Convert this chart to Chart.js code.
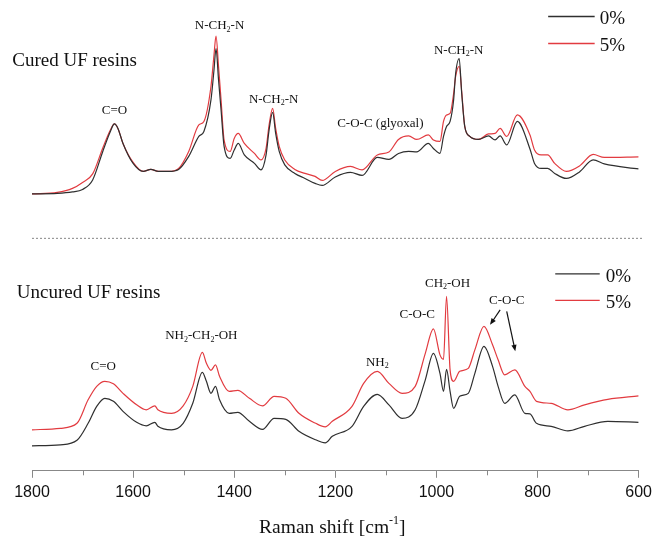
<!DOCTYPE html>
<html>
<head>
<meta charset="utf-8">
<script src="https://cdn.jsdelivr.net/npm/chart.js@4.4.0/dist/chart.umd.min.js"></script>
<style>
html,body{margin:0;padding:0;background:#fff;}
#wrap{position:relative;width:657px;height:538px;}
</style>
</head>
<body>
<div id="wrap"><canvas id="raman"></canvas></div>
<script>
/* Raman spectra of cured / uncured UF resins, 0% vs 5% glyoxal */

// cured resins (upper panel), intensity in arbitrary units
const curedShift=[1800,1750,1720,1700,1680,1660,1645,1637,1630,1620,1600,1580,1565,1550,1530,1510,1490,1470,1460,1446,1440,1436,1431,1426,1420,1408,1400,1392,1380,1360,1347,1337,1331,1324,1318,1311,1300,1280,1260,1240,1226,1200,1170,1147,1117,1094,1075,1055,1039,1016,1006,993,986,980,973,966,962,955,950,944,934,917,897,884,874,861,840,815,806,793,780,766,743,717,690,668,600];
const cured0=[55.4,55.5,55.8,56.3,58.2,63.9,67.9,69.4,68.5,65.5,61.5,59.9,60.3,59.9,59.9,60.3,62.9,66.9,67.9,74.2,80.2,84.5,78.2,72.2,64.9,62.5,64.2,65.5,63.2,61.5,60.2,63.2,68.2,71.7,67.5,63.9,61.2,59.5,58.5,57.5,57.1,58.8,59.7,59.1,62.7,62.3,63.5,63.9,63.8,65.5,64.5,63.5,66.9,68.9,69.9,74.2,79.5,82.5,75.5,68.9,66.9,66.3,67.0,66.2,67.0,65.2,69.9,64.4,61.5,60.5,60.5,59.5,58.5,59.8,62.2,61.4,60.4];
const cured5=[55.4,55.7,56.5,57.7,59.4,64.6,68.2,69.4,68.5,65.5,61.7,59.9,60.3,59.9,59.9,60.5,63.9,69.2,69.9,76.9,83.2,87.0,80.9,74.2,66.2,63.9,66.5,67.5,65.5,63.5,62.2,64.5,69.2,72.5,68.5,64.9,62.2,60.3,59.5,58.9,58.1,59.9,60.9,60.2,63.2,63.8,66.3,67.0,66.3,67.2,66.2,65.9,69.9,71.2,71.5,75.5,78.9,80.9,75.9,68.9,66.9,66.3,67.4,67.5,68.5,66.9,71.2,67.2,64.2,63.2,63.2,61.5,59.9,61.0,63.3,62.7,62.8];

// uncured resins (lower panel)
const uncuredShift=[1800,1744,1711,1689,1672,1656,1639,1620,1593,1574,1557,1551,1524,1501,1482,1463,1455,1446,1437,1429,1410,1393,1370,1344,1321,1298,1272,1239,1220,1206,1167,1144,1117,1094,1068,1042,1022,1006,993,986,980,973,966,954,937,924,906,889,878,865,845,825,815,802,773,740,707,661,600];
const uncured0=[5.0,5.2,6.1,9.5,12.9,14.5,13.9,11.9,9.7,9.0,9.7,8.9,8.2,9.5,13.5,19.7,17.9,15.5,16.9,14.2,11.5,11.7,9.9,8.3,10.5,10.3,7.9,6.2,5.6,6.9,8.9,12.9,15.3,13.2,10.5,12.2,18.2,23.5,19.5,15.9,20.3,15.9,12.5,14.9,15.5,19.5,24.9,20.9,16.9,13.5,15.2,11.5,11.4,9.5,8.9,8.0,8.9,9.9,9.7];
const uncured5=[8.2,8.5,9.5,14.2,16.9,17.9,17.4,15.5,13.2,12.2,13.0,12.2,11.5,13.0,16.9,23.7,21.5,20.1,21.2,18.9,15.9,16.1,14.5,13.0,14.9,14.5,11.5,9.5,8.8,9.9,12.9,17.5,19.9,17.5,15.5,16.9,23.5,28.4,23.2,22.3,34.9,20.2,17.9,19.9,20.5,24.2,28.9,25.2,22.2,19.2,20.2,16.9,15.9,13.9,13.5,12.2,13.2,14.3,15.0];

const seriesNames=['0%','5%'];
const seriesColors=['#2f2f2f','#e23b40'];
const xLabelTicks=[1800,1600,1400,1200,1000,800,600];
const xMinorTicks=[1700,1500,1300,1100,900,700];

// peak labels (wavenumber, intensity), _{} = subscript, ^{} = superscript
const notes=[
  {t:'Cured UF resins',x:1839,y:81.9,size:19,align:'left'},
  {t:'C=O',x:1637,y:72.0},
  {t:'N-CH_{2}-N',x:1429,y:89.0},
  {t:'N-CH_{2}-N',x:1322,y:74.3},
  {t:'C-O-C (glyoxal)',x:1111,y:69.4},
  {t:'N-CH_{2}-N',x:956,y:84.1},
  {t:'Uncured UF resins',x:1830,y:35.5,size:19,align:'left'},
  {t:'C=O',x:1659,y:20.9},
  {t:'NH_{2}-CH_{2}-OH',x:1465,y:27.0},
  {t:'NH_{2}',x:1117,y:21.7},
  {t:'C-O-C',x:1038,y:31.2},
  {t:'CH_{2}-OH',x:978,y:37.5},
  {t:'C-O-C',x:861,y:34.0}
];
const arrows=[[874,32.2,894,29.2],[861,31.9,844,23.9]];
const legends=[{x1:779,x2:687,tx:677,rows:[90.9,85.5]},{x1:765,x2:677,tx:665,rows:[39.4,34.1]}];
const separatorY=46.5;

const SERIF='"Liberation Serif","Times New Roman",serif';

function richText(ctx,str,x,y,size,align){
  const segs=str.split(/(_\{[^}]*\}|\^\{[^}]*\})/).filter(s=>s).map(p=>{
    if(p[0]==='_')return{s:p.slice(2,-1),k:1};
    if(p[0]==='^')return{s:p.slice(2,-1),k:-1};
    return{s:p,k:0};
  });
  let w=0;
  segs.forEach(g=>{g.f=(g.k?Math.round(size*0.62):size)+'px '+SERIF;ctx.font=g.f;g.w=ctx.measureText(g.s).width;w+=g.w;});
  let cx=align==='left'?x:x-w/2;
  ctx.textAlign='left';ctx.textBaseline='middle';
  segs.forEach(g=>{
    ctx.font=g.f;
    const dy=g.k===1?size*0.3:(g.k===-1?-size*0.38:0);
    ctx.fillText(g.s,cx,y+dy);cx+=g.w;
  });
}

const decor={
  id:'decor',
  afterDraw(chart){
    const ctx=chart.ctx,xs=chart.scales.x,ys=chart.scales.y,ca=chart.chartArea;
    ctx.save();
    // minor ticks
    ctx.strokeStyle='#888';ctx.lineWidth=1;
    xMinorTicks.forEach(v=>{const px=Math.round(xs.getPixelForValue(v))+0.5;ctx.beginPath();ctx.moveTo(px,xs.top);ctx.lineTo(px,xs.top+4.5);ctx.stroke();});
    // dotted separator
    ctx.strokeStyle='#999';ctx.lineWidth=1.2;ctx.setLineDash([2,2]);
    const sy=ys.getPixelForValue(separatorY);
    ctx.beginPath();ctx.moveTo(ca.left,sy);ctx.lineTo(ca.right+4,sy);ctx.stroke();
    ctx.setLineDash([]);
    // labels
    ctx.fillStyle='#111';
    notes.forEach(n=>richText(ctx,n.t,xs.getPixelForValue(n.x),ys.getPixelForValue(n.y),n.size||13,n.align||'center'));
    // arrows
    ctx.strokeStyle='#111';ctx.lineWidth=1.2;
    arrows.forEach(a=>{
      const x1=xs.getPixelForValue(a[0]),y1=ys.getPixelForValue(a[1]),x2=xs.getPixelForValue(a[2]),y2=ys.getPixelForValue(a[3]);
      const ang=Math.atan2(y2-y1,x2-x1),h=7;
      ctx.beginPath();ctx.moveTo(x1,y1);ctx.lineTo(x2-Math.cos(ang)*h*0.8,y2-Math.sin(ang)*h*0.8);ctx.stroke();
      ctx.beginPath();ctx.moveTo(x2,y2);
      ctx.lineTo(x2-h*Math.cos(ang-0.38),y2-h*Math.sin(ang-0.38));
      ctx.lineTo(x2-h*Math.cos(ang+0.38),y2-h*Math.sin(ang+0.38));
      ctx.closePath();ctx.fillStyle='#111';ctx.fill();
    });
    // legends
    legends.forEach(L=>{
      L.rows.forEach((ry,i)=>{
        const py=ys.getPixelForValue(ry);
        ctx.strokeStyle=seriesColors[i];ctx.lineWidth=1.3;
        ctx.beginPath();ctx.moveTo(xs.getPixelForValue(L.x1),py);ctx.lineTo(xs.getPixelForValue(L.x2),py);ctx.stroke();
        ctx.fillStyle='#111';
        richText(ctx,seriesNames[i],xs.getPixelForValue(L.tx),py+3,19,'left');
      });
    });
    // axis title
    richText(ctx,'Raman shift [cm^{-1}]',(xs.left+xs.right)/2-3,528,19.5,'center');
    ctx.restore();
  }
};

function series(xv,yv){return xv.map((x,i)=>({x:x,y:yv[i]}));}

new Chart(document.getElementById('raman'),{
  type:'line',
  data:{datasets:[
    {label:'cured 0%',data:series(curedShift,cured0),borderColor:seriesColors[0]},
    {label:'cured 5%',data:series(curedShift,cured5),borderColor:seriesColors[1]},
    {label:'uncured 0%',data:series(uncuredShift,uncured0),borderColor:seriesColors[0]},
    {label:'uncured 5%',data:series(uncuredShift,uncured5),borderColor:seriesColors[1]}
  ]},
  options:{
    responsive:true,maintainAspectRatio:false,animation:false,devicePixelRatio:1,
    layout:{padding:{left:32,right:16,top:1,bottom:31}},
    elements:{point:{radius:0},line:{borderWidth:1.2,cubicInterpolationMode:'monotone',fill:false}},
    scales:{
      x:{type:'linear',reverse:true,min:600,max:1800,
        ticks:{stepSize:100,autoSkip:false,maxRotation:0,padding:5,color:'#111',
          font:{family:'"Liberation Sans",Arial,sans-serif',size:16},
          callback:v=>xLabelTicks.includes(v)?String(v):''},
        grid:{drawOnChartArea:false,tickLength:7,tickWidth:1,
          tickColor:c=>xLabelTicks.includes(c.tick&&c.tick.value)?'#888':'rgba(0,0,0,0)'},
        border:{color:'#888',width:1}},
      y:{display:false,min:0,max:94}
    },
    plugins:{legend:{display:false},tooltip:{enabled:false}}
  },
  plugins:[decor]
});
</script>
</body>
</html>
